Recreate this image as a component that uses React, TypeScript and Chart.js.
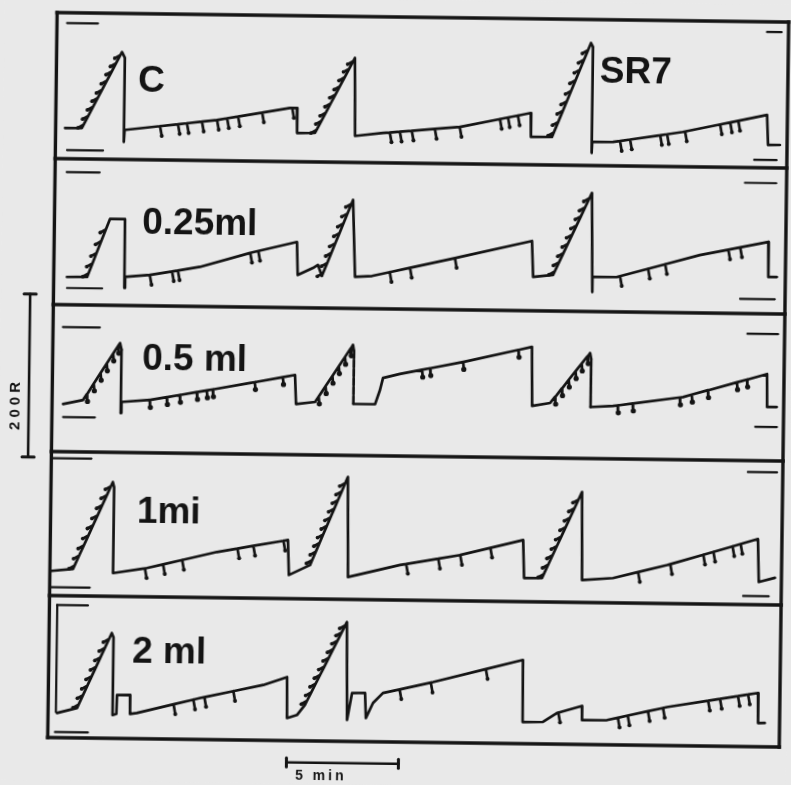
import React, { useEffect, useRef } from "react";
import Chart from "chart.js/auto";

const INK = "#141414";
const PAPER = "#e9e9e9";

// x = time in minutes from the left edge of the record; y = response in R.
// Five stacked records; each record's own values are R above its floor.
const panelFloorR = [710.4, 531.3, 350.9, 174.2, 0];
const frameTopR = 889.6;
const recordEndMin = 32.66;

// ---- record 1 : control (C) then SR7 ----
const p1T = [0.42, 1.17, 2.92, 3.05, 3.05, 3.08, 7.2, 10.45, 10.76, 10.78, 11.58, 13.32, 13.37, 14.62, 18.05, 21.2, 21.22, 22.16, 23.85, 23.94, 23.94, 23.96, 24.89, 28.0, 31.75, 31.81, 32.34];
const p1R = [37.7, 37.9, 131.8, 124.8, 21.5, 36.2, 49.9, 65.8, 65.9, 35.2, 35.6, 128.2, 32.5, 36.6, 45.2, 63.5, 34.1, 34.4, 150.3, 145.5, 15.5, 29.0, 29.2, 42.6, 64.8, 28.0, 28.2];
const p1Ticks = [4.66, 5.46, 5.86, 6.53, 7.2, 7.65, 8.14, 9.21, 10.55, 14.92, 15.37, 15.9, 16.93, 18.04, 19.83, 20.19, 20.63, 25.2, 25.65, 26.99, 27.3, 28.1, 29.66, 30.11, 30.47];
const p1Hooks = [1.25, 1.45, 1.66, 1.86, 2.05, 2.26, 2.47, 2.66, 2.85, 11.65, 11.86, 12.05, 12.26, 12.47, 12.66, 12.87, 13.07, 13.25, 22.24, 22.43, 22.63, 22.8, 22.99, 23.18, 23.37, 23.55, 23.72];
const p1Cal = [[0.45, 1.83, 166.5], [0.52, 2.13, 10.7], [31.7, 32.35, 166.7], [31.2, 32.2, 9.6]];

// ---- record 2 : 0.25 ml ----
const p2T = [0.59, 1.49, 2.48, 3.15, 3.16, 3.19, 4.3, 6.52, 8.75, 10.84, 10.89, 11.57, 11.79, 11.97, 13.32, 13.45, 14.21, 18.13, 21.33, 21.4, 22.29, 23.98, 24.05, 24.05, 25.15, 28.83, 31.88, 31.9, 32.28];
const p2R = [34.0, 34.4, 105.9, 106.1, 21.5, 35.0, 37.8, 48.5, 66.4, 80.6, 40.1, 49.0, 52.8, 39.3, 133.1, 38.7, 40.1, 64.8, 85.6, 41.5, 44.3, 145.5, 24.0, 42.4, 42.8, 71.0, 88.1, 45.2, 45.3];
const p2Ticks = [4.29, 5.28, 5.54, 8.76, 9.12, 15.0, 15.9, 17.9, 25.28, 26.53, 27.29, 30.1, 30.63];
const p2Hooks = [1.55, 1.72, 1.9, 2.1, 2.3, 12.02, 12.2, 12.38, 12.55, 12.73, 12.9, 13.08, 13.25, 22.36, 22.55, 22.74, 22.93, 23.12, 23.31, 23.5, 23.68, 23.87];
const p2Cal = [[0.52, 1.99, 162.8], [0.6, 2.17, 20.5], [30.8, 32.2, 160.4], [30.65, 32.2, 18.0]];

// ---- record 3 : 0.5 ml ----
const p3T = [0.49, 1.38, 3.0, 3.07, 3.07, 3.1, 4.37, 8.82, 10.83, 10.89, 11.74, 13.4, 13.45, 13.45, 14.42, 14.63, 14.76, 15.51, 18.32, 21.39, 21.43, 22.23, 23.99, 24.04, 24.04, 25.04, 28.16, 31.9, 31.92, 32.35];
const p3R = [58.5, 63.7, 134.2, 126, 48.5, 62.0, 64.8, 87.2, 97.8, 62.2, 65.0, 135.6, 128, 63.2, 63.4, 80.7, 95.5, 100.7, 116.4, 136.0, 63.6, 67.5, 129.4, 122, 63.2, 64.8, 76.9, 106.5, 66.0, 66.1];
const p3Ticks = [4.36, 5.12, 5.7, 6.46, 6.9, 7.17, 9.04, 10.29, 16.5, 16.86, 18.33, 20.79, 25.25, 25.92, 28.02, 28.55, 29.27, 30.56, 31.01];
const p3Steps = [1.55, 1.85, 2.15, 2.42, 2.7, 2.92, 11.9, 12.2, 12.5, 12.78, 13.05, 13.3, 22.45, 22.75, 23.05, 23.35, 23.62, 23.88];
const p3DashedDrops = [3.07, 13.45, 24.04];
const p3Cal = [[0.44, 2.09, 153], [0.5, 1.92, 42.6], [31.0, 32.37, 155.6], [31.4, 32.37, 41.6]];

// ---- record 4 : 1 ml ----
const p4T = [0.0, 1.03, 2.76, 2.82, 2.82, 4.33, 7.45, 10.61, 10.67, 11.61, 13.25, 13.31, 15.63, 18.3, 21.11, 21.17, 21.97, 23.71, 23.76, 25.14, 27.55, 31.59, 31.65, 32.37];
const p4R = [30.1, 32.9, 140.2, 134, 28.6, 35.3, 56.1, 71.9, 29.0, 41.6, 150.2, 27.5, 43.1, 56.2, 75.7, 29.1, 29.3, 135.5, 27.5, 30.4, 47.2, 80.6, 27.9, 33.3];
const p4Ticks = [4.24, 5.05, 5.9, 8.36, 9.07, 10.41, 15.9, 17.33, 18.31, 19.65, 26.26, 27.69, 29.16, 29.61, 30.46, 30.82];
const p4Hooks = [1.1, 1.3, 1.5, 1.7, 1.9, 2.1, 2.3, 2.5, 2.68, 11.7, 11.86, 12.02, 12.18, 12.34, 12.5, 12.66, 12.82, 12.98, 13.14, 22.05, 22.24, 22.43, 22.62, 22.81, 23.0, 23.19, 23.38, 23.56];
const p4Cal = [[0.05, 1.79, 168.7], [0.05, 1.79, 10.4], [31.1, 32.4, 162.7], [30.96, 32.1, 10.6]];

// ---- record 5 : 2 ml ----
const p5T = [0.4, 1.29, 2.8, 2.88, 2.88, 3.05, 3.07, 3.65, 3.66, 3.96, 6.78, 9.59, 10.65, 10.67, 11.11, 11.46, 13.29, 13.35, 13.56, 14.14, 14.19, 14.5, 14.94, 17.18, 21.17, 21.19, 22.1, 22.72, 23.83, 23.84, 24.96, 27.63, 31.68, 31.7, 32.0];
const p5R = [30.2, 36.7, 129.2, 124, 28.6, 30.0, 53.3, 53.5, 30.2, 31.4, 50.9, 67.9, 78.0, 27.7, 31.5, 44.0, 146.5, 26.3, 59.4, 59.8, 29.0, 47.5, 59.9, 74.2, 102.7, 26.6, 27.0, 38.2, 47.2, 29.9, 30.3, 47.2, 65.9, 29.1, 29.2];
const p5Ticks = [5.6, 6.48, 6.97, 8.26, 15.68, 17.07, 19.52, 22.78, 25.44, 25.88, 26.78, 27.45, 29.46, 29.99, 30.79, 31.24];
const p5Hooks = [1.36, 1.55, 1.74, 1.93, 2.12, 2.31, 2.5, 2.68, 11.55, 11.74, 11.93, 12.12, 12.31, 12.5, 12.69, 12.88, 13.06, 13.22];
const p5Cal = [[0.34, 1.72, 162.7], [0.32, 1.79, 6.9]];
const p5CalBracket = [0.35, 31.4, 162.7];

// ---- labels ----
const labelText = ["C", "SR7", "0.25ml", "0.5 ml", "1mi", "2 ml"];
const labelPanel = [0, 0, 1, 2, 3, 4];
const labelT = [3.65, 24.26, 3.92, 4.0, 3.85, 3.72];
const labelR = [83.2, 102, 87.7, 102.3, 90.8, 93.1];

// ---- calibration bars ----
const doseBarMin = -1.04;
const doseBarFromR = 343.8;
const doseBarR = 200;
const doseBarLabel = "200R";
const timeBarFromMin = 10.67;
const timeBarMin = 5;
const timeBarR = -26.6;
const timeBarLabel = "5 min";

const MARK_GEOM: Record<string, { dx: number; dy: number; tip: number }> = {
  tick: { dx: 0.08, dy: -12, tip: 2 },
  hook: { dx: -0.25, dy: -4, tip: 1.9 },
  dot: { dx: 0.03, dy: -9, tip: 2.6 },
};

function buildTrace(ts: number[], rs: number[], ticks: number[], ramp: number[], tickStyle: string, rampStyle: string, dashed: number[], floor: number) {
  const marks = [...ticks.map((t) => ({ t, s: tickStyle })), ...ramp.map((t) => ({ t, s: rampStyle }))].sort((a, b) => a.t - b.t);
  const pts: any[] = [];
  for (let i = 0; i < ts.length; i++) {
    const vertical = i < ts.length - 1 && ts[i + 1] === ts[i];
    pts.push({ x: ts[i], y: floor + rs[i], dashNext: vertical && dashed.includes(ts[i]) });
    if (i < ts.length - 1 && ts[i + 1] > ts[i]) {
      for (const m of marks) {
        if (m.t < ts[i] || m.t >= ts[i + 1]) continue;
        const f = (m.t - ts[i]) / (ts[i + 1] - ts[i]);
        const r = rs[i] + f * (rs[i + 1] - rs[i]);
        const g = MARK_GEOM[m.s];
        pts.push({ x: m.t, y: floor + r });
        pts.push({ x: m.t + g.dx, y: floor + r + g.dy, tip: g.tip });
        pts.push({ x: m.t, y: floor + r });
      }
    }
  }
  return pts;
}

export default function App() {
  const ref = useRef<HTMLCanvasElement>(null);
  useEffect(() => {
    const canvas = ref.current!;
    const line = (data: any[], width = 2.7, extra: any = {}) => ({
      data,
      showLine: true,
      borderColor: INK,
      backgroundColor: INK,
      borderWidth: width,
      pointRadius: 0,
      pointHoverRadius: 0,
      tension: 0,
      fill: false,
      borderJoinStyle: "round",
      borderCapStyle: "round",
      ...extra,
    });
    const datasets: any[] = [];
    // frame
    [frameTopR, ...panelFloorR].forEach((r) => datasets.push(line([{ x: 0, y: r }, { x: recordEndMin, y: r }], 3.6, { borderCapStyle: "square" })));
    [0, recordEndMin].forEach((t) => datasets.push(line([{ x: t, y: 0 }, { x: t, y: frameTopR }], 3.4, { borderCapStyle: "square" })));
    // traces
    const traces = [
      buildTrace(p1T, p1R, p1Ticks, p1Hooks, "tick", "hook", [], panelFloorR[0]),
      buildTrace(p2T, p2R, p2Ticks, p2Hooks, "tick", "hook", [], panelFloorR[1]),
      buildTrace(p3T, p3R, p3Ticks, p3Steps, "dot", "dot", p3DashedDrops, panelFloorR[2]),
      buildTrace(p4T, p4R, p4Ticks, p4Hooks, "tick", "hook", [], panelFloorR[3]),
      buildTrace(p5T, p5R, p5Ticks, p5Hooks, "tick", "hook", [], panelFloorR[4]),
    ];
    traces.forEach((d) =>
      datasets.push(
        line(d, 2.7, {
          pointRadius: (c: any) => (c.raw && c.raw.tip ? c.raw.tip : 0),
          pointBorderWidth: 0,
          segment: {
            borderDash: (c: any) => {
              const p = c.chart.data.datasets[c.datasetIndex].data[c.p0DataIndex];
              return p && p.dashNext ? [5, 4] : undefined;
            },
          },
        })
      )
    );
    // calibration marks at record edges
    [p1Cal, p2Cal, p3Cal, p4Cal, p5Cal].forEach((cal, p) =>
      cal.forEach(([t0, t1, r]) => datasets.push(line([{ x: t0, y: panelFloorR[p] + r }, { x: t1, y: panelFloorR[p] + r }], 2.2)))
    );
    datasets.push(line([{ x: p5CalBracket[0], y: panelFloorR[4] + p5CalBracket[1] }, { x: p5CalBracket[0], y: panelFloorR[4] + p5CalBracket[2] }], 2.2));
    // dose bar
    datasets.push(line([{ x: doseBarMin, y: doseBarFromR }, { x: doseBarMin, y: doseBarFromR + doseBarR }], 2.6));
    [doseBarFromR, doseBarFromR + doseBarR].forEach((r) => datasets.push(line([{ x: doseBarMin - 0.27, y: r }, { x: doseBarMin + 0.27, y: r }], 3)));
    // time bar
    datasets.push(line([{ x: timeBarFromMin, y: timeBarR }, { x: timeBarFromMin + timeBarMin, y: timeBarR }], 2.6));
    [timeBarFromMin, timeBarFromMin + timeBarMin].forEach((t) => datasets.push(line([{ x: t, y: timeBarR - 5.5 }, { x: t, y: timeBarR + 5.5 }], 3)));

    const paperPlugin = {
      id: "paper",
      beforeDraw(chart: any) {
        const c = chart.ctx;
        c.save();
        c.fillStyle = PAPER;
        c.fillRect(0, 0, chart.width, chart.height);
        c.restore();
      },
    };
    const textPlugin = {
      id: "texts",
      afterDatasetsDraw(chart: any) {
        const c = chart.ctx;
        const xs = chart.scales.x;
        const ys = chart.scales.y;
        c.save();
        c.fillStyle = INK;
        c.textBaseline = "alphabetic";
        c.textAlign = "left";
        c.font = 'bold 37px "Liberation Sans", Arial, sans-serif';
        labelText.forEach((s, i) => {
          c.fillText(s, xs.getPixelForValue(labelT[i]), ys.getPixelForValue(panelFloorR[labelPanel[i]] + labelR[i]));
        });
        // dose label, rotated
        c.save();
        c.font = 'bold 15px "Liberation Sans", Arial, sans-serif';
        (c as any).letterSpacing = "4px";
        c.translate(xs.getPixelForValue(doseBarMin - 0.6), ys.getPixelForValue(doseBarFromR + 33));
        c.rotate(-Math.PI / 2);
        c.textBaseline = "middle";
        c.fillText(doseBarLabel, 0, 0);
        c.restore();
        // time label
        c.font = 'bold 14px "Liberation Sans", Arial, sans-serif';
        (c as any).letterSpacing = "3px";
        c.fillText(timeBarLabel, xs.getPixelForValue(timeBarFromMin + 0.39), ys.getPixelForValue(timeBarR - 20.9));
        (c as any).letterSpacing = "0px";
        c.restore();
      },
    };

    const chart = new Chart(canvas, {
      type: "scatter",
      data: { datasets },
      options: {
        animation: false,
        responsive: false,
        devicePixelRatio: 1,
        layout: { padding: 0 },
        plugins: { legend: { display: false }, tooltip: { enabled: false } },
        events: [],
        scales: {
          x: { type: "linear", min: -2.339, max: 32.973, display: false },
          y: { type: "linear", min: -52.76, max: 910.4, display: false },
        },
      } as any,
      plugins: [paperPlugin, textPlugin],
    });
    return () => chart.destroy();
  }, []);
  return (
    <div style={{ position: "fixed", left: 0, top: 0, width: 791, height: 785, background: PAPER, overflow: "hidden" }}>
      <canvas
        ref={ref}
        width={791}
        height={785}
        style={{ display: "block", width: 791, height: 785, transform: "rotate(0.745deg)", transformOrigin: "395px 380px" }}
      />
    </div>
  );
}
